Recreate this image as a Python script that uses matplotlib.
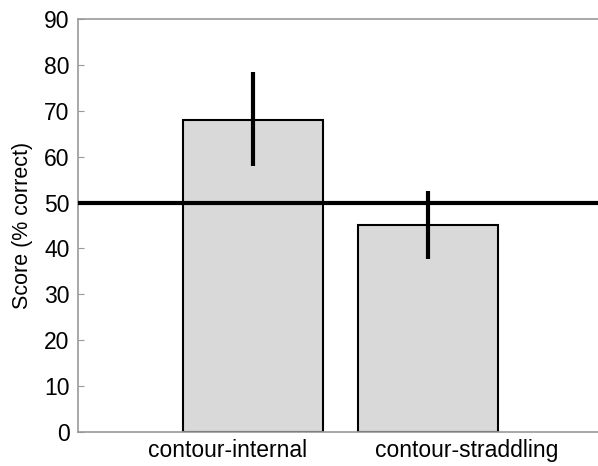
import numpy as np
import matplotlib.pyplot as plt

plt.rcParams['font.family'] = ['Liberation Sans', 'DejaVu Sans']

categories = ['contour-internal', 'contour-straddling']
scores = [68.0, 45.0]
err_low = [58.0, 37.7]
err_high = [78.5, 52.6]
chance = 50

fig = plt.figure(figsize=(5.98, 4.66), dpi=100)
ax = fig.add_axes([78 / 598, 34 / 466, 520 / 598, 413 / 466])

x = np.arange(1, len(scores) + 1)
ax.bar(x, scores, 0.8, color='#d9d9d9', edgecolor='black', linewidth=1.5, zorder=2)
yerr = [np.array(scores) - np.array(err_low), np.array(err_high) - np.array(scores)]
ax.errorbar(x, scores, yerr=yerr, fmt='none', ecolor='black', elinewidth=3, capsize=0, zorder=3)
ax.axhline(chance, color='black', linewidth=3, zorder=4)

ax.set_xlim(0, 520 / 175)
ax.set_ylim(0, 90)
ax.set_yticks(np.arange(0, 91, 10))
# labels in the original sit a bit off the bar centres
ax.set_xticks(x + np.array([-0.143, 0.223]))
ax.set_xticklabels(categories, fontsize=16.5)
ax.tick_params(axis='y', direction='in', length=4, color='#999999', labelsize=16.5, pad=6)
ax.tick_params(axis='x', length=0, pad=5)
ax.set_ylabel('Score (% correct)', fontsize=15.5, labelpad=8)

for side in ['left', 'bottom', 'top']:
    ax.spines[side].set_color('#999999')
    ax.spines[side].set_linewidth(1.2)
ax.spines['right'].set_visible(False)

fig.savefig('out.png', dpi=100)
